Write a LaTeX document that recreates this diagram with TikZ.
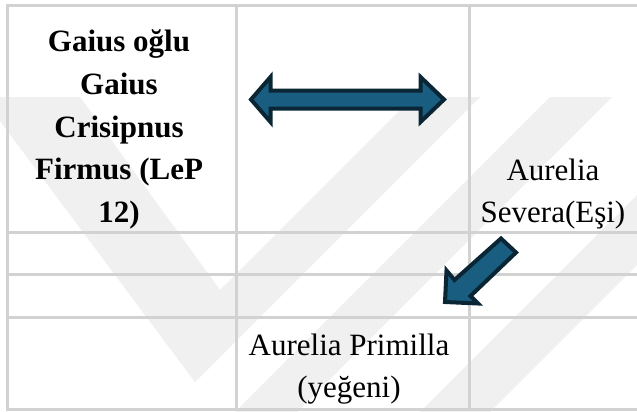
\documentclass[tikz,border=0pt]{standalone}
\usepackage{fontspec}
\setmainfont{Liberation Serif}
\definecolor{gridc}{RGB}{210,210,210}
\definecolor{wm}{RGB}{240,240,240}
\definecolor{arrfill}{RGB}{25,94,128}
\definecolor{arrline}{RGB}{10,37,52}
\begin{document}
\begin{tikzpicture}[x=1pt,y=-1pt,
  gridline/.style={draw=gridc,line width=3pt,line cap=rect},
  blockarrow/.style={fill=arrfill,draw=arrline,line width=4pt,line join=miter},
  wmark/.style={fill=wm,draw=none},
  celltext/.style={anchor=base,inner sep=0pt,font=\fontsize{31}{42}\selectfont},
  boldtext/.style={anchor=base,inner sep=0pt,font=\fontsize{31}{42}\selectfont\bfseries}]
\useasboundingbox (0,0) rectangle (637,412);
\fill[white] (0,0) rectangle (637,412);
% faint watermark
\begin{scope}
\clip (0,0) rectangle (637,412);
\path[wmark] (-18,97) -- (80,97) -- (220,290) -- (413,97) -- (480,97) -- (195,382) -- cycle;
\path[wmark] (550,97) -- (612,97) -- (297,412) -- (235,412) -- cycle;
\path[wmark] (420,412) -- (490,412) -- (637,265) -- (637,195) -- cycle;
\end{scope}
% table grid
\draw[gridline,line join=miter] (640,5.5) -- (7.5,5.5) -- (7.5,409) -- (640,409);
\draw[gridline] (7.5,232.5) -- (640,232.5);
\draw[gridline] (7.5,274) -- (640,274);
\draw[gridline] (7.5,317.5) -- (640,317.5);
\draw[gridline] (236,5.5) -- (236,409);
\draw[gridline] (469,5.5) -- (469,409);
% block arrows
\path[blockarrow] (251,99.5) -- (270.5,77) -- (270.5,90.5) -- (420.5,90.5) -- (420.5,77) -- (444,99.5)
  -- (420.5,122) -- (420.5,108.5) -- (270.5,108.5) -- (270.5,122) -- cycle;
\path[blockarrow] (501,238.5) -- (516,252.5) -- (470.5,296) -- (478,303.5) -- (445,302)
  -- (446.5,270.5) -- (454.5,280) -- cycle;
% texts
\node[boldtext] (g1) at (119,52) {Gaius oğlu};
\node[boldtext] (g2) at (119,94.6) {Gaius};
\node[boldtext] (g3) at (119,137.2) {Crisipnus};
\node[boldtext] (g4) at (119,179.8) {Firmus (LeP};
\node[boldtext] (g5) at (119,222.4) {12)};
\node[celltext] (s1) at (553,180) {Aurelia};
\node[celltext] (s2) at (553,222) {Severa(Eşi)};
\node[celltext] (p1) at (349,355) {Aurelia Primilla};
\node[celltext] (p2) at (349,397) {(yeğeni)};
\end{tikzpicture}
\end{document}
